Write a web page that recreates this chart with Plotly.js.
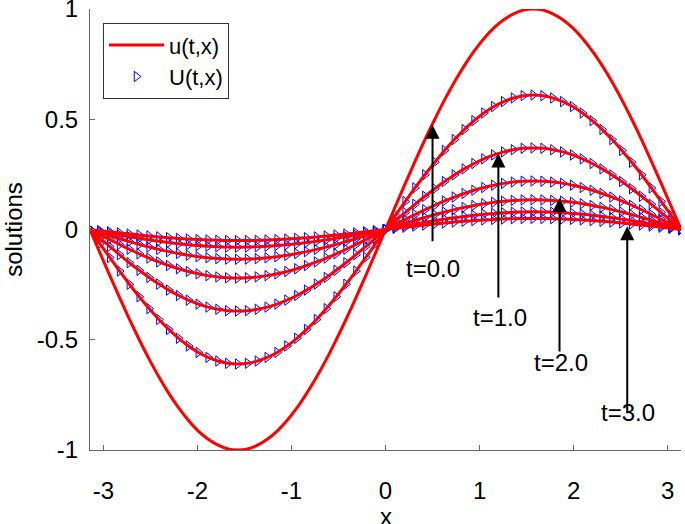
<!DOCTYPE html>
<html>
<head>
<meta charset="utf-8">
<script src="https://cdn.plot.ly/plotly-3.0.1.min.js"></script>
<style>html,body{margin:0;padding:0;background:#fff;}#chart{width:685px;height:524px;}</style>
</head>
<body>
<div id="chart"></div>
<script>
// x grid (from -pi to pi)
const xGrid = [-3.142,-3.037,-2.932,-2.827,-2.723,-2.618,-2.513,-2.409,-2.304,-2.199,-2.094,-1.990,-1.885,-1.780,-1.676,-1.571,-1.466,-1.361,-1.257,-1.152,-1.047,-0.942,-0.838,-0.733,-0.628,-0.524,-0.419,-0.314,-0.209,-0.105,0,
  0.105,0.209,0.314,0.419,0.524,0.628,0.733,0.838,0.942,1.047,1.152,1.257,1.361,1.466,1.571,1.676,1.780,1.885,1.990,2.094,2.199,2.304,2.409,2.513,2.618,2.723,2.827,2.932,3.037,3.142];
// profile of each curve (shape, peak = 1)
const profile = [0,-0.105,-0.208,-0.309,-0.407,-0.500,-0.588,-0.669,-0.743,-0.809,-0.866,-0.914,-0.951,-0.978,-0.995,-1,-0.995,-0.978,-0.951,-0.914,-0.866,-0.809,-0.743,-0.669,-0.588,-0.500,-0.407,-0.309,-0.208,-0.105,0,
  0.105,0.208,0.309,0.407,0.500,0.588,0.669,0.743,0.809,0.866,0.914,0.951,0.978,0.995,1,0.995,0.978,0.951,0.914,0.866,0.809,0.743,0.669,0.588,0.500,0.407,0.309,0.208,0.105,0];
// peak amplitude of each exact curve u(t,x)
const exactAmps = [1, 0.61, 0.37, 0.22, 0.135, 0.08, 0.05];
// peak amplitude of each numerical curve U(t,x)
const numAmps = [0.61, 0.37, 0.22, 0.135, 0.08, 0.05];
const arrowLabels = ['t=0.0', 't=1.0', 't=2.0', 't=3.0'];
const arrowX = [0.5, 1.2, 1.85, 2.57];
const arrowTipY = [0.475, 0.345, 0.143, 0.015];
const arrowTailY = [-0.06, -0.315, -0.56, -0.84];
const labelX = [0.5, 1.22, 1.87, 2.58];
const labelY = [-0.175, -0.40, -0.605, -0.83];

const FONT = 'Liberation Sans, Arial, Helvetica, sans-serif';
const traces = [];
numAmps.forEach((a, i) => {
  traces.push({
    x: xGrid, y: profile.map(p => a * p), type: 'scatter', mode: 'markers',
    name: 'U(t,x)', showlegend: i === 0,
    marker: {symbol: 'triangle-right-open', size: 9, color: '#0000ff', line: {width: 1, color: '#0000ff'}}
  });
});
exactAmps.forEach((a, i) => {
  traces.push({
    x: xGrid, y: profile.map(p => a * p), type: 'scatter', mode: 'lines',
    name: 'u(t,x)', showlegend: i === 0,
    line: {color: '#ff0000', width: 3, shape: 'spline'}
  });
});

const annotations = [];
arrowLabels.forEach((lab, i) => {
  annotations.push({
    x: arrowX[i], y: arrowTipY[i], ax: arrowX[i], ay: arrowTailY[i],
    xref: 'x', yref: 'y', axref: 'x', ayref: 'y', text: '', showarrow: true,
    arrowhead: 2, arrowsize: 1.4, arrowwidth: 2, arrowcolor: '#000'
  });
  annotations.push({
    x: labelX[i], y: labelY[i], xref: 'x', yref: 'y', text: lab, showarrow: false,
    font: {size: 24, color: '#000', family: FONT}
  });
});
// x-axis title
annotations.push({
  x: 0, y: -0.1678, xref: 'x', yref: 'paper', xanchor: 'center', yanchor: 'bottom',
  yshift: -7, text: 'x', showarrow: false, borderpad: 0,
  font: {size: 24, color: '#000', family: FONT}
});

const axisCommon = {
  showline: true, linecolor: '#666', linewidth: 1, ticks: 'inside', ticklen: 5,
  tickcolor: '#666', showgrid: false, zeroline: false, mirror: false,
  ticklabeloverflow: 'allow',
  tickfont: {size: 24, color: '#000', family: FONT}
};

const layout = {
  width: 685, height: 524,
  margin: {l: 90, r: 4, t: 9, b: 74},
  paper_bgcolor: '#fff', plot_bgcolor: '#fff',
  font: {family: FONT, size: 24, color: '#000'},
  xaxis: Object.assign({}, axisCommon, {
    range: [-3.1416, 3.1416], tickvals: [-3, -2, -1, 0, 1, 2, 3],
    ticktext: ['-3', '-2', '-1', '0', '1', '2', '3'], ticklabelstandoff: 19
  }),
  yaxis: Object.assign({}, axisCommon, {
    range: [-1, 1], tickvals: [-1, -0.5, 0, 0.5, 1],
    ticktext: ['-1', '-0.5', '0', '0.5', '1'], ticklabelstandoff: 6,
    title: {text: 'solutions', font: {size: 24}, standoff: 8}
  }),
  showlegend: true,
  legend: {
    x: 0.022, y: 0.968, xanchor: 'left', yanchor: 'top', traceorder: 'reversed',
    bordercolor: '#333', borderwidth: 1, bgcolor: '#fff', tracegroupgap: 0,
    font: {size: 22, family: FONT}, itemwidth: 55
  },
  annotations: annotations
};

Plotly.newPlot('chart', traces, layout, {displayModeBar: false, staticPlot: true});
</script>
</body>
</html>
